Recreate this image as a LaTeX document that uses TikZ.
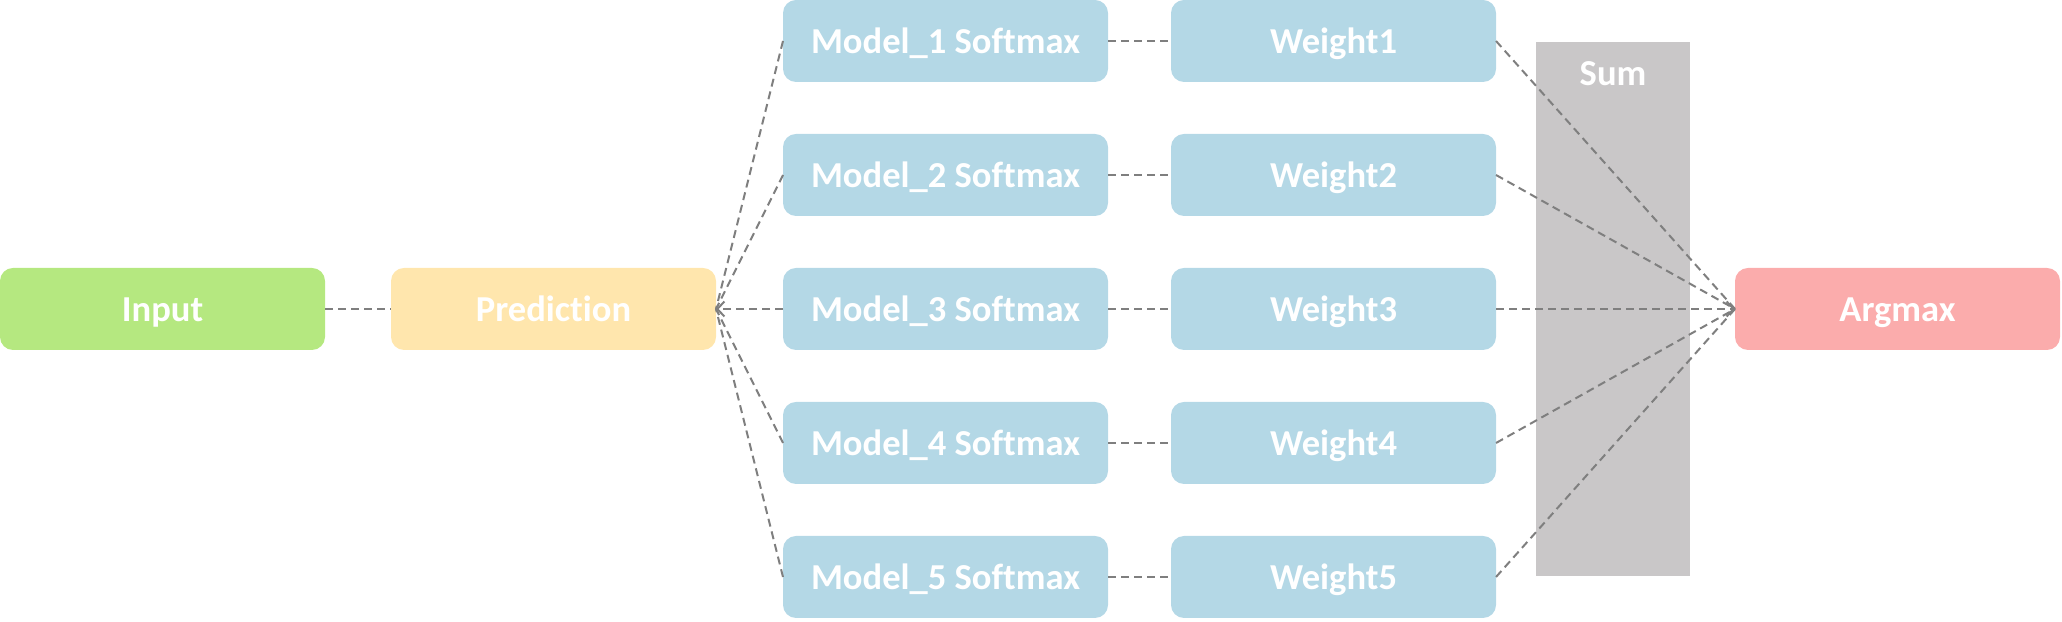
\documentclass[tikz,border=0pt]{standalone}
\usepackage{fontspec}
\setmainfont{Carlito}[Ligatures=NoCommon]
\usepackage{xcolor}
\usepackage{tikz}
\usetikzlibrary{arrows.meta,positioning}
\definecolor{InGreen}{HTML}{B5E880}
\definecolor{PredYellow}{HTML}{FFE6AD}
\definecolor{ModBlue}{HTML}{B4D8E6}
\definecolor{SumGray}{HTML}{C9C7C8}
\definecolor{ArgRed}{HTML}{FBACAC}
\definecolor{LinkGray}{HTML}{7F7F7F}

\begin{document}
\begin{tikzpicture}[
  node distance=5.2mm and 6.6mm,
  box/.style={rectangle,rounded corners=1.3mm,minimum width=32.5mm,minimum height=8.2mm,inner sep=0pt,outer sep=0pt,text height=8pt,text depth=0.8pt,text=white,font=\bfseries\fontsize{10.4}{12}\selectfont},
  sumbar/.style={rectangle,fill=SumGray,minimum width=15.4mm,minimum height=53.4mm,inner sep=0pt,outer sep=0pt},
  link/.style={dash pattern=on 0.8mm off 0.5mm,line width=0.2mm,color=LinkGray},
  tip/.style={link,-{Straight Barb[length=0.7mm,width=1.5mm]}}
]
\useasboundingbox (0,0) rectangle (20.62,-6.22);
\node[box,fill=InGreen] (input) at (1.625,-3.09) {Input};
\node[box,fill=PredYellow,right=of input] (pred) {Prediction};
\node[box,fill=ModBlue,right=6.7mm of pred] (model3) {Model\_3 Softmax};
\node[box,fill=ModBlue,above=of model3] (model2) {Model\_2 Softmax};
\node[box,fill=ModBlue,above=of model2] (model1) {Model\_1 Softmax};
\node[box,fill=ModBlue,below=of model3] (model4) {Model\_4 Softmax};
\node[box,fill=ModBlue,below=of model4] (model5) {Model\_5 Softmax};
\node[box,fill=ModBlue,right=6.3mm of model1] (weight1) {Weight1};
\node[box,fill=ModBlue,right=6.3mm of model2] (weight2) {Weight2};
\node[box,fill=ModBlue,right=6.3mm of model3] (weight3) {Weight3};
\node[box,fill=ModBlue,right=6.3mm of model4] (weight4) {Weight4};
\node[box,fill=ModBlue,right=6.3mm of model5] (weight5) {Weight5};
\node[sumbar,right=4mm of weight3] (sum) {};
\node[box,minimum width=0pt,minimum height=0pt,below=3.1mm of sum.north,anchor=center] (sumlabel) {Sum};
\node[box,fill=ArgRed,right=23.9mm of weight3] (argmax) {Argmax};
% links
\draw[link] (input) -- (pred);
\draw[link] (model1.west) -- (pred.east);
\draw[link] (model2.west) -- (pred.east);
\draw[tip] (model3.west) -- (pred.east);
\draw[link] (model4.west) -- (pred.east);
\draw[link] (model5.west) -- (pred.east);
\draw[link] (model1) -- (weight1);
\draw[link] (model2) -- (weight2);
\draw[link] (model3) -- (weight3);
\draw[link] (model4) -- (weight4);
\draw[link] (model5) -- (weight5);
\draw[link] (weight1.east) -- (argmax.west);
\draw[link] (weight2.east) -- (argmax.west);
\draw[tip] (weight3.east) -- (argmax.west);
\draw[link] (weight4.east) -- (argmax.west);
\draw[link] (weight5.east) -- (argmax.west);
\end{tikzpicture}
\end{document}
